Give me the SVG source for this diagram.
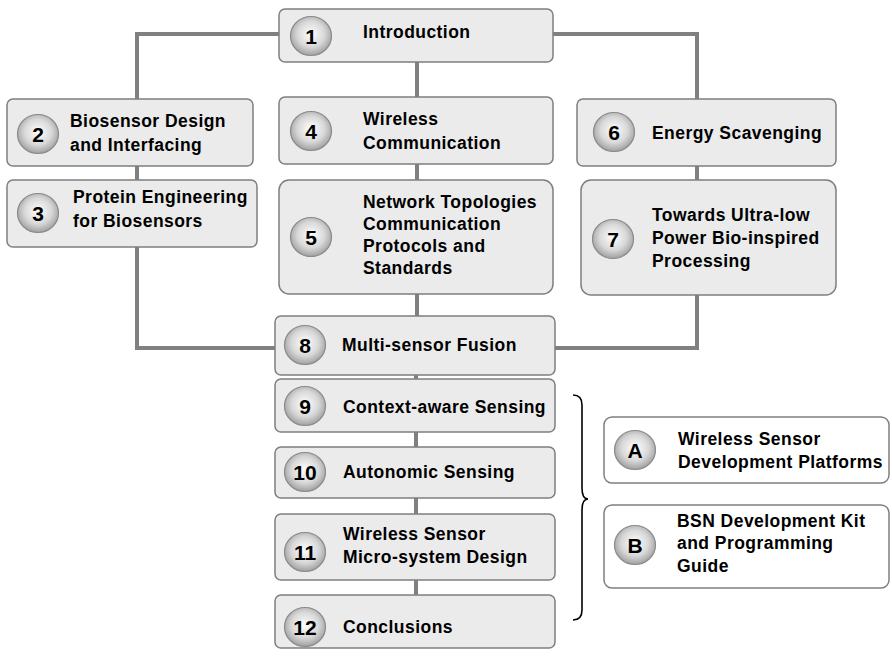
<svg xmlns="http://www.w3.org/2000/svg" width="892" height="658" viewBox="0 0 892 658">
<defs>
<radialGradient id="ball" cx="50%" cy="45%" r="55%">
<stop offset="0" stop-color="#ffffff"/>
<stop offset="0.6" stop-color="#d8d8d8"/>
<stop offset="1" stop-color="#a0a0a0"/>
</radialGradient>
<style>
.box{fill:#ebebeb;stroke:#7f7f7f;stroke-width:1.5}
.wbox{fill:#ffffff;stroke:#7f7f7f;stroke-width:1.5}
.ball{fill:url(#ball);stroke:#8a8a8a;stroke-width:1.2}
.num{font-family:"Liberation Sans",Arial,sans-serif;font-weight:bold;font-size:21px;fill:#000;text-anchor:middle}
.lbl{font-family:"Liberation Sans",Arial,sans-serif;font-weight:bold;font-size:17.5px;letter-spacing:0.45px;fill:#000}
.con{fill:none;stroke:#808080;stroke-width:4}
.brace{fill:none;stroke:#000;stroke-width:1.6}
</style>
</defs>
<rect width="892" height="658" fill="#ffffff"/>
<g id="connectors">
<path class="con" d="M279,34 H137 V99"/>
<path class="con" d="M553,34 H697 V99"/>
<path class="con" d="M417,62 V97"/>
<path class="con" d="M137,166 V180"/>
<path class="con" d="M417,164 V180"/>
<path class="con" d="M697,166 V180"/>
<path class="con" d="M137,247 V348 H275"/>
<path class="con" d="M417,294 V316"/>
<path class="con" d="M697,295 V348 H555"/>
<path class="con" d="M416,375 V379"/>
<path class="con" d="M416,432 V447"/>
<path class="con" d="M416,498 V514"/>
<path class="con" d="M416,580 V595"/>
</g>
<g id="n1"><rect class="box" x="279" y="9" width="274" height="53" rx="6"/><ellipse class="ball" cx="311" cy="36" rx="20.5" ry="19.5"/><text class="num" x="311" y="43.5">1</text><text class="lbl" x="363" y="38">Introduction</text></g>
<g id="n2"><rect class="box" x="7" y="99" width="246" height="67" rx="6"/><ellipse class="ball" cx="38" cy="134" rx="20.5" ry="19.5"/><text class="num" x="38" y="141.5">2</text><text class="lbl" x="70" y="127">Biosensor Design</text><text class="lbl" x="70" y="151">and Interfacing</text></g>
<g id="n3"><rect class="box" x="7" y="180" width="250" height="67" rx="6"/><ellipse class="ball" cx="38" cy="213" rx="20.5" ry="19.5"/><text class="num" x="38" y="220.5">3</text><text class="lbl" x="73" y="203">Protein Engineering</text><text class="lbl" x="73" y="227">for Biosensors</text></g>
<g id="n4"><rect class="box" x="279" y="97" width="274" height="67" rx="6"/><ellipse class="ball" cx="311" cy="131" rx="20.5" ry="19.5"/><text class="num" x="311" y="138.5">4</text><text class="lbl" x="363" y="125">Wireless</text><text class="lbl" x="363" y="149">Communication</text></g>
<g id="n5"><rect class="box" x="279" y="180" width="274" height="114" rx="10"/><ellipse class="ball" cx="311" cy="237" rx="20.5" ry="19.5"/><text class="num" x="311" y="244.5">5</text><text class="lbl" x="363" y="208">Network Topologies</text><text class="lbl" x="363" y="230">Communication</text><text class="lbl" x="363" y="252">Protocols and</text><text class="lbl" x="363" y="274">Standards</text></g>
<g id="n6"><rect class="box" x="577" y="99" width="259" height="67" rx="6"/><ellipse class="ball" cx="614" cy="132" rx="20.5" ry="19.5"/><text class="num" x="614" y="139.5">6</text><text class="lbl" x="652" y="139">Energy Scavenging</text></g>
<g id="n7"><rect class="box" x="581" y="180" width="255" height="115" rx="10"/><ellipse class="ball" cx="613" cy="239" rx="20.5" ry="19.5"/><text class="num" x="613" y="246.5">7</text><text class="lbl" x="652" y="221">Towards Ultra-low</text><text class="lbl" x="652" y="244">Power Bio-inspired</text><text class="lbl" x="652" y="267">Processing</text></g>
<g id="n8"><rect class="box" x="275" y="316" width="280" height="59" rx="6"/><ellipse class="ball" cx="305" cy="345" rx="20.5" ry="19.5"/><text class="num" x="305" y="352.5">8</text><text class="lbl" x="342" y="351">Multi-sensor Fusion</text></g>
<g id="n9"><rect class="box" x="275" y="379" width="280" height="53" rx="6"/><ellipse class="ball" cx="305" cy="406" rx="20.5" ry="19.5"/><text class="num" x="305" y="413.5">9</text><text class="lbl" x="343" y="413">Context-aware Sensing</text></g>
<g id="n10"><rect class="box" x="275" y="447" width="280" height="51" rx="6"/><ellipse class="ball" cx="305" cy="472" rx="20.5" ry="19.5"/><text class="num" x="305" y="479.5">10</text><text class="lbl" x="343" y="478">Autonomic Sensing</text></g>
<g id="n11"><rect class="box" x="275" y="514" width="280" height="66" rx="6"/><ellipse class="ball" cx="305" cy="552" rx="20.5" ry="19.5"/><text class="num" x="305" y="559.5">11</text><text class="lbl" x="343" y="540">Wireless Sensor</text><text class="lbl" x="343" y="563">Micro-system Design</text></g>
<g id="n12"><rect class="box" x="275" y="595" width="280" height="53" rx="6"/><ellipse class="ball" cx="305" cy="627" rx="20.5" ry="19.5"/><text class="num" x="305" y="634.5">12</text><text class="lbl" x="343" y="633">Conclusions</text></g>
<g id="brace"><path class="brace" d="M573,395 Q582,395 582,405 L582,488 Q582,499 588,499 Q582,499 582,510 L582,610 Q582,620 573,620"/></g>
<g id="nA"><rect class="wbox" x="604" y="417" width="285" height="66" rx="8"/><ellipse class="ball" cx="635" cy="450" rx="20.5" ry="19.5"/><text class="num" x="635" y="457.5">A</text><text class="lbl" x="678" y="445">Wireless Sensor</text><text class="lbl" x="678" y="468">Development Platforms</text></g>
<g id="nB"><rect class="wbox" x="604" y="505" width="285" height="83" rx="8"/><ellipse class="ball" cx="635" cy="545" rx="20.5" ry="19.5"/><text class="num" x="635" y="552.5">B</text><text class="lbl" x="677" y="527">BSN Development Kit</text><text class="lbl" x="677" y="549">and Programming</text><text class="lbl" x="677" y="572">Guide</text></g>
</svg>
